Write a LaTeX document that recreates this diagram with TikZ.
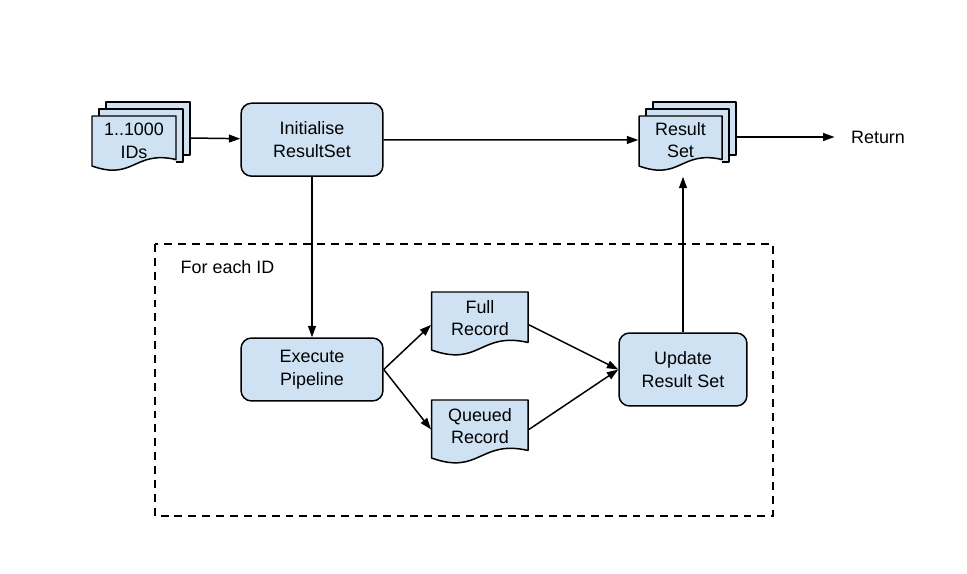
\documentclass[tikz,border=0pt]{standalone}
\usepackage{fontspec}
\setmainfont{Liberation Sans}
\usepackage{tikz}
\usetikzlibrary{arrows.meta}
\definecolor{boxblue}{HTML}{CFE2F3}

% document sheet, top left corner (#1,#2), width #3, height #4
\newcommand{\docshape}[4]{%
\draw[docline] (#1,#2) -- ++(#3,0) -- ++(0,0.87*#4)
	.. controls +(-0.5*#3,-0.19*#4) and +(0.5*#3,0.3*#4) .. (#1,#2+#4) -- cycle;}
% same sheet with two more behind it
\newcommand{\docstack}[4]{%
\draw[docline] (#1+#3+7,#2+0.78*#4) -- ++(7,0) |- (#1+14,#2-14) -- (#1+14,#2-7);
\draw[docline] (#1+#3,#2+0.92*#4) -- ++(7,0) |- (#1+7,#2-7) -- (#1+7,#2);
\docshape{#1}{#2}{#3}{#4}}

\begin{document}
\begin{tikzpicture}[x=0.02cm, y=-0.02cm, line width=0.85pt, font=\fontsize{10.2}{12.8}\selectfont, >={Triangle[length=6.5pt,width=4.5pt]}]
\tikzstyle{docline} = [draw=black, fill=boxblue, line join=round]
\tikzstyle{procbox} = [draw, fill=boxblue, rounded corners=6pt, align=center, minimum width=2.84cm, minimum height=1.46cm]
\tikzstyle{doctext} = [align=center, inner sep=0cm]
\useasboundingbox (0,0) rectangle (967,574);
% loop frame
\draw[line width=1.1pt, dash pattern=on 4.5pt off 3.4pt] (155,244) rectangle (773,516);
\node[anchor=base west, inner sep=0cm] (loop) at (180,274) {For each ID};
% documents
\docstack{92}{116}{84}{50}
\docstack{639}{116}{83}{50}
\docshape{431.5}{292}{96.5}{58}
\docshape{431.5}{400}{96.5}{58}
\node[doctext, minimum width=1.68cm, minimum height=1.44cm] (ids) at (134,141) {1..1000\\IDs};
\node[doctext, minimum width=1.66cm, minimum height=1.44cm] (rs) at (680.5,140) {Result\\Set};
\node[doctext, minimum width=1.93cm, minimum height=1.04cm] (fr) at (480,318) {Full\\Record};
\node[doctext, minimum width=1.93cm, minimum height=1.04cm] (qr) at (480,426) {Queued\\Record};
\coordinate (idsback) at (190,138);
\coordinate (rsback) at (737,137);
% process boxes
\node[procbox] (init) at (312,139.7) {Initialise\\ResultSet};
\node[procbox, minimum height=1.26cm] (exec) at (312,369.5) {Execute\\Pipeline};
\node[procbox, minimum width=2.56cm] (upd) at (683,369.5) {Update\\Result Set};
\node[inner xsep=9pt] (ret) at (878,137) {Return};
% arrows
\draw[->] (idsback) -- (init);
\draw[->] (init) -- (rs);
\draw[->] (rsback) -- (ret);
\draw[->] (init) -- (exec);
\draw[->] (exec.east) -- (fr.188);
\draw[->] (exec.east) -- (qr.184);
\draw[->] (fr.-8) -- (upd.west);
\draw[->] (qr.-4) -- (upd.west);
\draw[->] (upd) -- (upd |- rs.south);
\end{tikzpicture}
\end{document}
